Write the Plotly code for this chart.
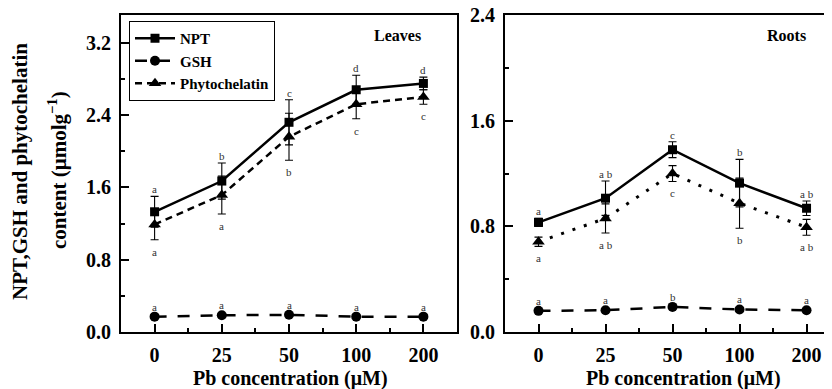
import plotly.graph_objects as go

# ---------------- data ----------------
conc_labels = ["0", "25", "50", "100", "200"]
x_idx = [0, 1, 2, 3, 4]

leaves_npt = [1.33, 1.67, 2.32, 2.68, 2.75]
leaves_npt_err = [0.17, 0.20, 0.25, 0.16, 0.07]
leaves_gsh = [0.17, 0.185, 0.19, 0.17, 0.17]
leaves_gsh_err = [0.01, 0.01, 0.01, 0.01, 0.01]
leaves_pc = [1.19, 1.515, 2.16, 2.52, 2.60]
leaves_pc_err = [0.17, 0.21, 0.26, 0.16, 0.08]

roots_npt = [0.83, 1.013, 1.38, 1.127, 0.937]
roots_npt_err = [0.03, 0.13, 0.06, 0.18, 0.055]
roots_gsh = [0.16, 0.165, 0.19, 0.17, 0.165]
roots_gsh_err = [0.01, 0.01, 0.01, 0.01, 0.01]
roots_pc = [0.683, 0.86, 1.20, 0.975, 0.793]
roots_pc_err = [0.035, 0.11, 0.06, 0.19, 0.06]

leaves_npt_letters = ["a", "b", "c", "d", "d"]
leaves_gsh_letters = ["a", "a", "a", "a", "a"]
leaves_pc_letters = ["a", "a", "b", "c", "c"]
roots_npt_letters = ["a", "a b", "c", "b", "a b"]
roots_gsh_letters = ["a", "a", "b", "a", "a"]
roots_pc_letters = ["a", "a b", "c", "b", "a b"]

leaves_yticks = [0, 0.8, 1.6, 2.4, 3.2]
roots_yticks = [0, 0.8, 1.6, 2.4]

# ---------------- layout helpers ----------------
OFF = 8                      # page body margin of the browser
W, H = 832 - OFF, 389 - OFF
MT, MB = 15 - OFF, 57
PH = H - MT - MB
SERIF = "Liberation Serif"


def px_x(p):
    """window pixel -> paper x"""
    return (p - OFF) / W


def px_y(p):
    """window pixel -> paper y"""
    return (H - MB - (p - OFF)) / PH


fig = go.Figure()


def add_series(xa, ya, y, err, name, symbol, dash, width, msize, show):
    fig.add_trace(go.Scatter(
        x=x_idx, y=y, name=name, mode="lines+markers",
        xaxis=xa, yaxis=ya, showlegend=show,
        line=dict(color="black", width=width, dash=dash),
        marker=dict(symbol=symbol, size=msize, color="black"),
        error_y=dict(type="data", array=err, visible=True,
                     color="black", thickness=1.1, width=4),
    ))


# Leaves
add_series("x", "y", leaves_npt, leaves_npt_err, "NPT", "square", "solid", 2.5, 9, True)
add_series("x", "y", leaves_gsh, leaves_gsh_err, "GSH", "circle", "12px,11px", 2.5, 10, True)
add_series("x", "y", leaves_pc, leaves_pc_err, "Phytochelatin", "triangle-up", "7px,5px", 2.5, 11, True)
# Roots
add_series("x2", "y2", roots_npt, roots_npt_err, "NPT", "square", "solid", 2.5, 9, False)
add_series("x2", "y2", roots_gsh, roots_gsh_err, "GSH", "circle", "12px,11px", 2.5, 10, False)
add_series("x2", "y2", roots_pc, roots_pc_err, "Phytochelatin", "triangle-up", "3px,9px", 3, 11, False)

annotations = []
letter_font = dict(family=SERIF, size=11, color="#303030")


def add_letters(xr, yr, vals, errs, letters, above, shift):
    for i, (v, e, t) in enumerate(zip(vals, errs, letters)):
        annotations.append(dict(
            x=x_idx[i], y=(v + e) if above else (v - e), xref=xr, yref=yr,
            text=t, showarrow=False, font=letter_font,
            xanchor="center", yanchor="middle", yshift=shift))


add_letters("x", "y", leaves_npt, leaves_npt_err, leaves_npt_letters, True, 7)
add_letters("x", "y", leaves_gsh, leaves_gsh_err, leaves_gsh_letters, True, 9)
add_letters("x", "y", leaves_pc, leaves_pc_err, leaves_pc_letters, False, -12)
add_letters("x2", "y2", roots_npt, roots_npt_err, roots_npt_letters, True, 7)
add_letters("x2", "y2", roots_gsh, roots_gsh_err, roots_gsh_letters, True, 9)
add_letters("x2", "y2", roots_pc, roots_pc_err, roots_pc_letters, False, -12)

bold = dict(family=SERIF, weight="bold", color="black")

annotations += [
    dict(x=px_x(397), y=px_y(35), xref="paper", yref="paper", text="Leaves",
         showarrow=False, font=dict(**bold, size=16), xanchor="center", yanchor="middle"),
    dict(x=px_x(786), y=px_y(35), xref="paper", yref="paper", text="Roots",
         showarrow=False, font=dict(**bold, size=16), xanchor="center", yanchor="middle"),
    dict(x=px_x(290), y=px_y(378), xref="paper", yref="paper", text="Pb concentration (μM)",
         showarrow=False, font=dict(**bold, size=20), xanchor="center", yanchor="middle"),
    dict(x=px_x(683), y=px_y(378), xref="paper", yref="paper", text="Pb concentration (μM)",
         showarrow=False, font=dict(**bold, size=20), xanchor="center", yanchor="middle"),
    dict(x=px_x(20), y=px_y(172), xref="paper", yref="paper", text="NPT,GSH and phytochelatin",
         showarrow=False, textangle=-90, font=dict(**bold, size=21), xanchor="center", yanchor="middle"),
    dict(x=px_x(57), y=px_y(170), xref="paper", yref="paper", text="content (μmolg<sup>−1</sup>)",
         showarrow=False, textangle=-90, font=dict(**bold, size=21), xanchor="center", yanchor="middle"),
]

xcommon = dict(
    tickmode="array", tickvals=x_idx, ticktext=conc_labels,
    showline=True, linecolor="black", linewidth=2, mirror=True,
    ticks="inside", ticklen=8, tickwidth=2, tickcolor="black",
    minor=dict(tickmode="array", tickvals=[0.5, 1.5, 2.5, 3.5],
               ticks="inside", ticklen=4, tickwidth=1.5, tickcolor="black"),
    showgrid=False, zeroline=False,
    tickfont=dict(**bold, size=20), ticklabelstandoff=4,
)
ycommon = dict(
    showline=True, linecolor="black", linewidth=2,
    ticks="inside", ticklen=8, tickwidth=2, tickcolor="black",
    tickmode="array", tickformat=".1f", ticklabeloverflow="allow",
    minor=dict(dtick=0.4, tick0=0, ticks="inside", ticklen=4,
               tickwidth=1.5, tickcolor="black"),
    showgrid=False, zeroline=False,
    tickfont=dict(**bold, size=20), ticklabelstandoff=4,
)

fig.update_layout(
    width=W, height=H,
    margin=dict(l=0, r=0, t=MT, b=MB, autoexpand=False),
    paper_bgcolor="white", plot_bgcolor="white",
    xaxis=dict(**xcommon, domain=[px_x(121), px_x(457)], range=[-0.5, 4.5], anchor="y"),
    yaxis=dict(**ycommon, domain=[0, 1], range=[0, 3.507], mirror=True, anchor="x",
               tickvals=leaves_yticks),
    xaxis2=dict(**xcommon, domain=[px_x(505), 1.0], range=[-0.5, 4.38], anchor="y2"),
    yaxis2=dict(**ycommon, domain=[0, 1], range=[0, 2.4001], mirror=False, anchor="x2",
                tickvals=roots_yticks),
    legend=dict(x=px_x(129), y=px_y(21), xanchor="left", yanchor="top",
                bordercolor="black", borderwidth=1, bgcolor="white",
                font=dict(**bold, size=15), tracegroupgap=0,
                itemwidth=40),
    annotations=annotations,
    showlegend=True,
)

fig.write_html("out.html")
